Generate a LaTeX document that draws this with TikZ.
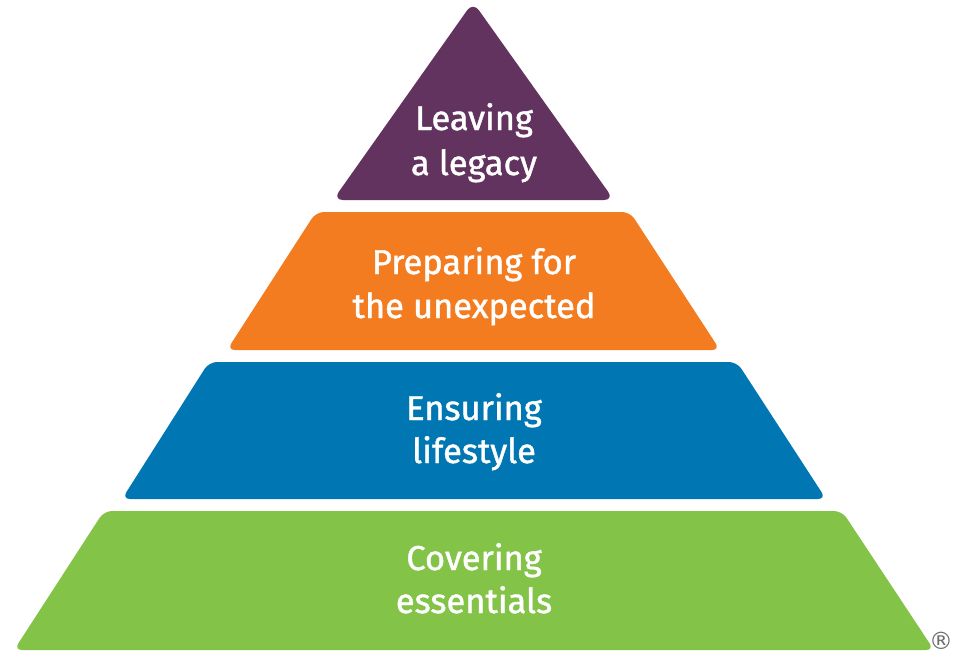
\documentclass[tikz,border=0pt]{standalone}
\usepackage{fontspec}
\setmainfont{Fira Sans}
\newfontfamily\labelfont{Fira Sans}[FakeBold=1.2]
\newfontfamily\symfont{DejaVu Sans}
\definecolor{pyrpurple}{RGB}{99,51,96}
\definecolor{pyrorange}{RGB}{244,124,32}
\definecolor{pyrblue}{RGB}{0,119,179}
\definecolor{pyrgreen}{RGB}{131,195,72}
\tikzset{
  layer/.style={rounded corners=0.2cm},
  label/.style={text=white, anchor=base, inner sep=0pt, font=\labelfont\fontsize{24.5pt}{28pt}\selectfont}
}
\begin{document}
\begin{tikzpicture}[x=0.025cm,y=-0.025cm]
\useasboundingbox (0,0) rectangle (960,660);
% top triangle
\fill[pyrpurple, rounded corners=0.25cm] (333,200) -- (473,2) -- (614,200) -- cycle;
% orange
\fill[pyrorange, layer] (227,350) -- (316,212) -- (630,212) -- (720,350) -- cycle;
% blue
\fill[pyrblue, layer] (122,499) -- (209,362) -- (737,362) -- (826,499) -- cycle;
% green
\fill[pyrgreen, layer] (14,650) -- (104,511) -- (842,511) -- (934,650) -- cycle;
% labels
\node[label] (l1a) at (474,130) {Leaving};
\node[label] (l1b) at (474,175) {a legacy};
\node[label] (l2a) at (474,274) {Preparing for};
\node[label] (l2b) at (474,318) {the unexpected};
\node[label] (l3a) at (474,420) {Ensuring};
\node[label] (l3b) at (474,463) {lifestyle};
\node[label] (l4a) at (474,570) {Covering};
\node[label] (l4b) at (474,613) {essentials};
\node[text=gray!85!black, inner sep=0pt, font=\symfont\fontsize{17pt}{19pt}\selectfont] (reg) at (941,641) {®};
\end{tikzpicture}
\end{document}
